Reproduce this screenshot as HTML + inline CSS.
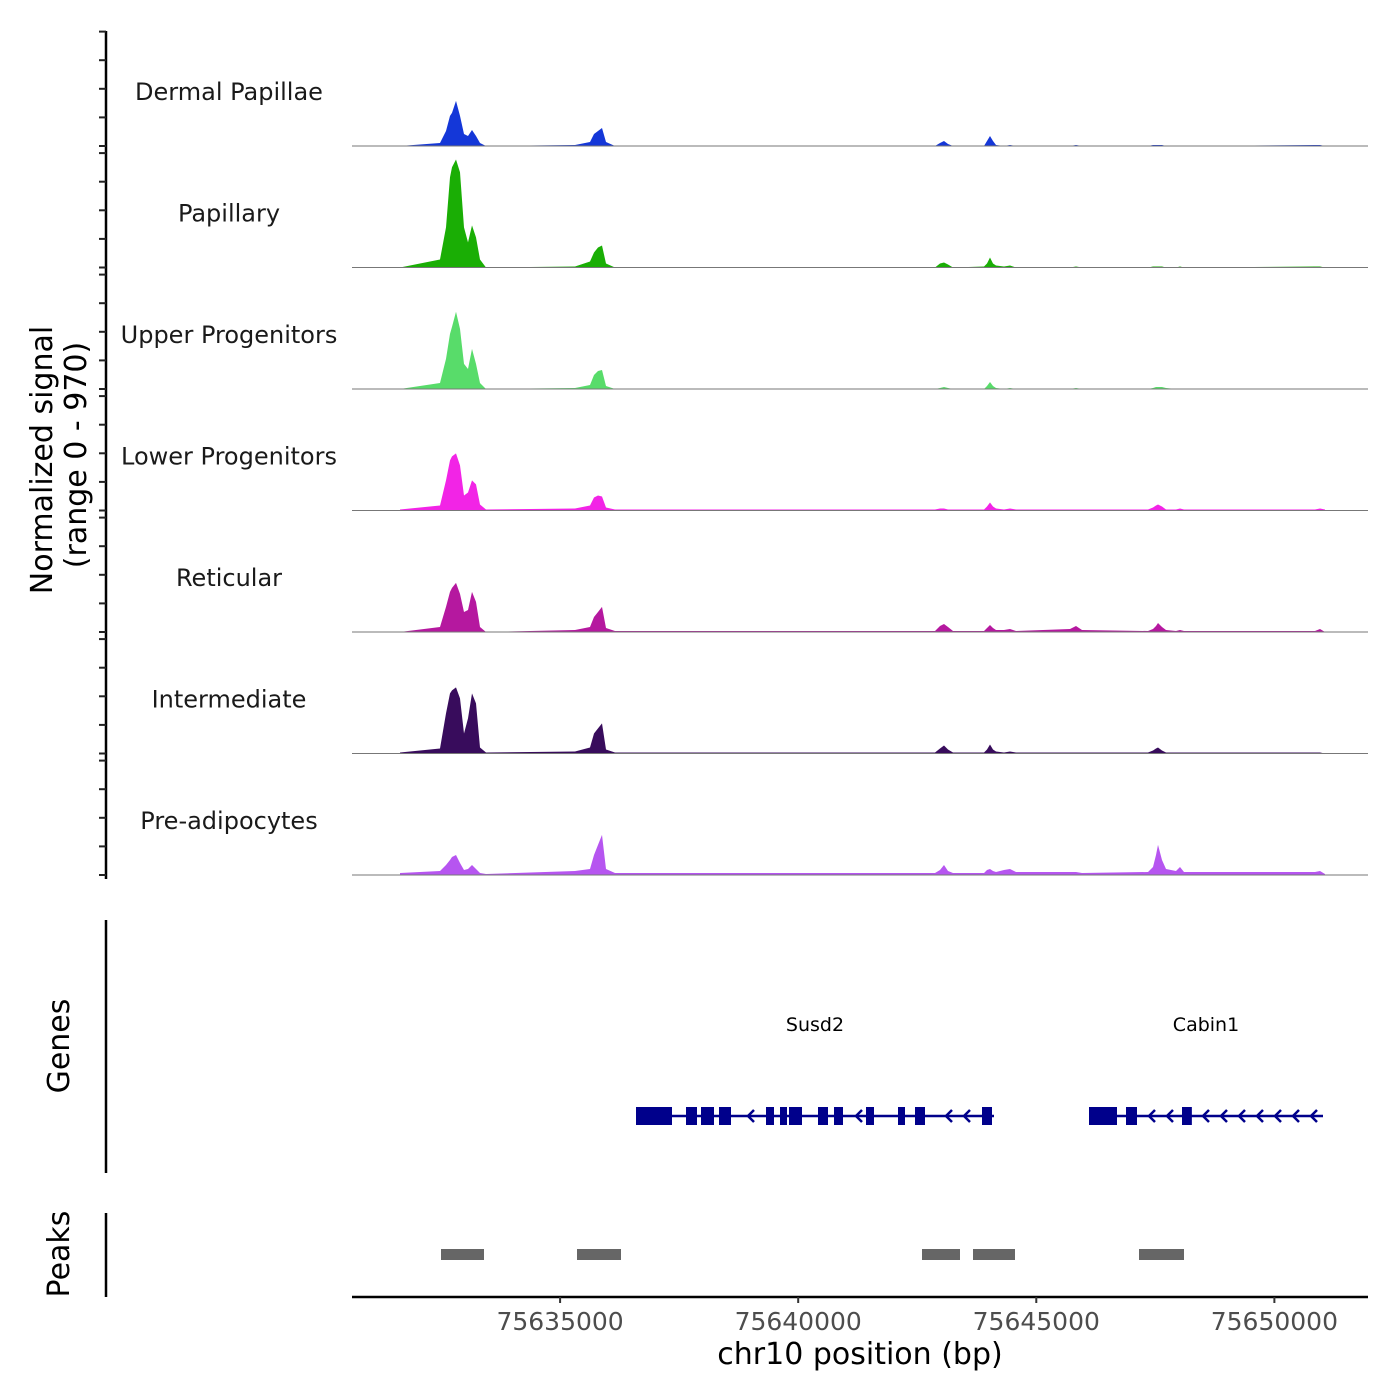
<!DOCTYPE html>
<html><head><meta charset="utf-8"><style>
html,body{margin:0;padding:0;background:#fff}
svg{display:block;font-family:"DejaVu Sans","Liberation Sans",sans-serif}
</style></head><body>
<svg id="chart" width="1400" height="1400" viewBox="0 0 1400 1400" xmlns="http://www.w3.org/2000/svg">
<g id="tracks"></g>
<g id="genes"></g>
<g id="peaks"></g>
<g id="axes"></g>
<text transform="translate(52,460) rotate(-90)" text-anchor="middle" font-size="30">Normalized signal</text>
<text transform="translate(86,455) rotate(-90)" text-anchor="middle" font-size="30">(range 0 - 970)</text>
<text transform="translate(69,1046) rotate(-90)" text-anchor="middle" font-size="30">Genes</text>
<text transform="translate(69,1254) rotate(-90)" text-anchor="middle" font-size="30">Peaks</text>
<text x="860" y="1364" text-anchor="middle" font-size="30">chr10 position (bp)</text>
</svg>
<script>
const trackNames = ["Dermal Papillae","Papillary","Upper Progenitors","Lower Progenitors","Reticular","Intermediate","Pre-adipocytes"];
const trackColors = ["#1437d8","#1aae05","#58dc6a","#f224e6","#b5189f","#380c5c","#b655f0"];
const positions = [75631638,75632478,75632604,75632688,75632730,75632814,75632898,75632982,75633066,75633150,75633234,75633318,75633444,75635313,75635628,75635712,75635796,75635880,75635964,75636153,75642873,75642978,75643062,75643146,75643251,75643902,75643965,75644028,75644091,75644154,75644322,75644448,75644574,75645708,75645834,75645960,75647346,75647451,75647514,75647556,75647640,75647724,75647934,75648018,75648102,75650853,75650958,75651063];
const sigDermal = [0,27,135,270,297,405,270,108,90,144,90,27,0,9,36,108,135,162,36,0,0,27,45,18,0,0,45,90,45,9,0,9,0,0,9,0,0,9,9,9,9,0,0,0,0,9,9,0];
const sigPapillary = [0,72,360,810,900,970,855,360,225,378,270,72,0,9,54,135,180,198,36,0,0,36,45,27,0,9,36,90,36,18,9,18,0,0,9,0,0,9,9,9,9,0,0,9,0,9,9,0];
const sigUpper = [0,54,270,495,558,693,540,225,180,360,225,54,0,9,36,126,162,171,27,0,0,9,18,9,0,0,27,63,27,9,0,9,0,0,9,0,0,9,18,18,18,9,0,0,0,0,0,0];
const sigLower = [9,45,270,450,486,513,405,135,162,270,234,54,9,18,45,117,135,126,27,9,9,18,18,9,9,9,36,72,36,18,9,18,9,9,9,9,9,27,45,54,36,9,9,18,9,9,18,9];
const sigReticular = [0,45,225,360,396,441,342,180,198,360,270,45,0,18,45,135,180,225,36,9,9,54,72,45,9,9,36,63,36,18,18,27,9,27,54,18,9,27,54,81,45,18,9,18,9,9,27,0];
const sigIntermediate = [9,45,360,540,567,594,495,180,315,540,450,54,9,18,54,180,225,270,36,9,9,45,72,36,9,9,36,81,36,18,9,18,9,9,9,9,9,27,45,54,27,9,9,9,9,9,9,0];
const sigPreadipo = [18,36,90,135,162,180,108,45,54,90,54,18,9,36,54,180,270,360,54,18,18,45,90,36,18,18,45,54,36,27,45,54,27,27,27,18,27,72,180,270,135,54,36,72,27,27,36,9];
const xTicks = [75635000,75640000,75645000,75650000];
const geneNames = ["Susd2","Cabin1"];
const geneStarts = [75636594,75646107];
const geneEnds = [75644112,75651021];
const exonStarts = [75636594,75637644,75637959,75638337,75639324,75639618,75639807,75640416,75640752,75641424,75642096,75642453,75643860,75646107,75646884,75648060];
const exonEnds = [75637350,75637875,75638232,75638589,75639492,75639765,75640080,75640626,75640941,75641592,75642243,75642663,75644070,75646695,75647115,75648267];
const peakStarts = [75632499,75635355,75642600,75643671,75647157];
const peakEnds = [75633402,75636279,75643398,75644553,75648102];

const NS="http://www.w3.org/2000/svg";
const signals=[sigDermal,sigPapillary,sigUpper,sigLower,sigReticular,sigIntermediate,sigPreadipo];
const X0=352,X1=1368,BP0=75630630,BP1=75651966;
const xs=bp=>X0+(bp-BP0)/(BP1-BP0)*(X1-X0);
const baselines=[146,267.5,389,510.5,632,753.5,875];
const ys=(v,b)=>b-v*(108/970);
function mk(tag,attrs,parent){const e=document.createElementNS(NS,tag);for(const k in attrs)e.setAttribute(k,attrs[k]);parent.appendChild(e);return e;}
const tg=document.getElementById('tracks');
signals.forEach((s,i)=>{
  const b=baselines[i];
  let d=`M${xs(positions[0])},${b}`;
  s.forEach((v,j)=>{d+=` L${xs(positions[j]).toFixed(1)},${ys(v,b).toFixed(1)}`;});
  d+=` L${xs(positions[positions.length-1])},${b} Z`;
  const p=mk('path',{d:d,fill:trackColors[i]},tg);
  
  
  const l=mk('line',{x1:X0,x2:X1,y1:b,y2:b,stroke:'#777','stroke-width':1},tg);
  
  
  const t=mk('text',{x:229,y:b-46,'text-anchor':'middle','font-size':24,fill:'#1a1a1a'},tg);
  t.textContent=trackNames[i];
  
  
});
const ax=document.getElementById('axes');
mk('line',{x1:106,x2:106,y1:31,y2:879,stroke:'#000','stroke-width':2.5},ax);
baselines.forEach(b=>{for(let k=0;k<5;k++){const y=b-k*28.6;mk('line',{x1:99,x2:106,y1:y,y2:y,stroke:'#222','stroke-width':2},ax);}});
mk('line',{x1:106,x2:106,y1:920,y2:1173,stroke:'#000','stroke-width':2.5},ax);
mk('line',{x1:106,x2:106,y1:1213,y2:1297,stroke:'#000','stroke-width':2.5},ax);
const xa=mk('line',{x1:X0,x2:X1,y1:1297,y2:1297,stroke:'#000','stroke-width':2.5},ax);


xTicks.forEach(t=>{
  const x=xs(t);
  mk('line',{x1:x,x2:x,y1:1297,y2:1303,stroke:'#333','stroke-width':2},ax);
  const tx=mk('text',{x:x,y:1330,'text-anchor':'middle','font-size':25,fill:'#4d4d4d'},ax);
  tx.textContent=t;
  
  
});
const gg=document.getElementById('genes');
const GY=1116;
geneNames.forEach((n,i)=>{
  const x1=xs(geneStarts[i]),x2=xs(geneEnds[i]);
  mk('line',{x1:x1,x2:x2,y1:GY,y2:GY,stroke:'#00008b','stroke-width':2.5},gg);
  const t=mk('text',{x:(x1+x2)/2,y:1031,'text-anchor':'middle','font-size':19,fill:'#000'},gg);
  t.textContent=n;
  
  
  for(let x=x2-10;x>x1+10;x-=18){
    const bp=BP0+(x-X0)/(X1-X0)*(BP1-BP0);
    let inEx=false;for(let k=0;k<exonStarts.length;k++){if(bp>=exonStarts[k]-150&&bp<=exonEnds[k]+150)inEx=true;}
    if(!inEx)mk('path',{d:`M${x+4},${GY-6} L${x-2},${GY} L${x+4},${GY+6}`,fill:'none',stroke:'#00008b','stroke-width':2.5},gg);
  }
});
exonStarts.forEach((s,k)=>{
  const x1=xs(s),x2=xs(exonEnds[k]);
  const r=mk('rect',{x:x1,y:GY-9,width:Math.max(x2-x1,3),height:18,fill:'#00008b'},gg);
  
  
});
const pg=document.getElementById('peaks');
peakStarts.forEach((s,k)=>{
  const r=mk('rect',{x:xs(s),y:1249,width:xs(peakEnds[k])-xs(s),height:11,fill:'#666'},pg);
  
  
});
</script>
</body></html>
